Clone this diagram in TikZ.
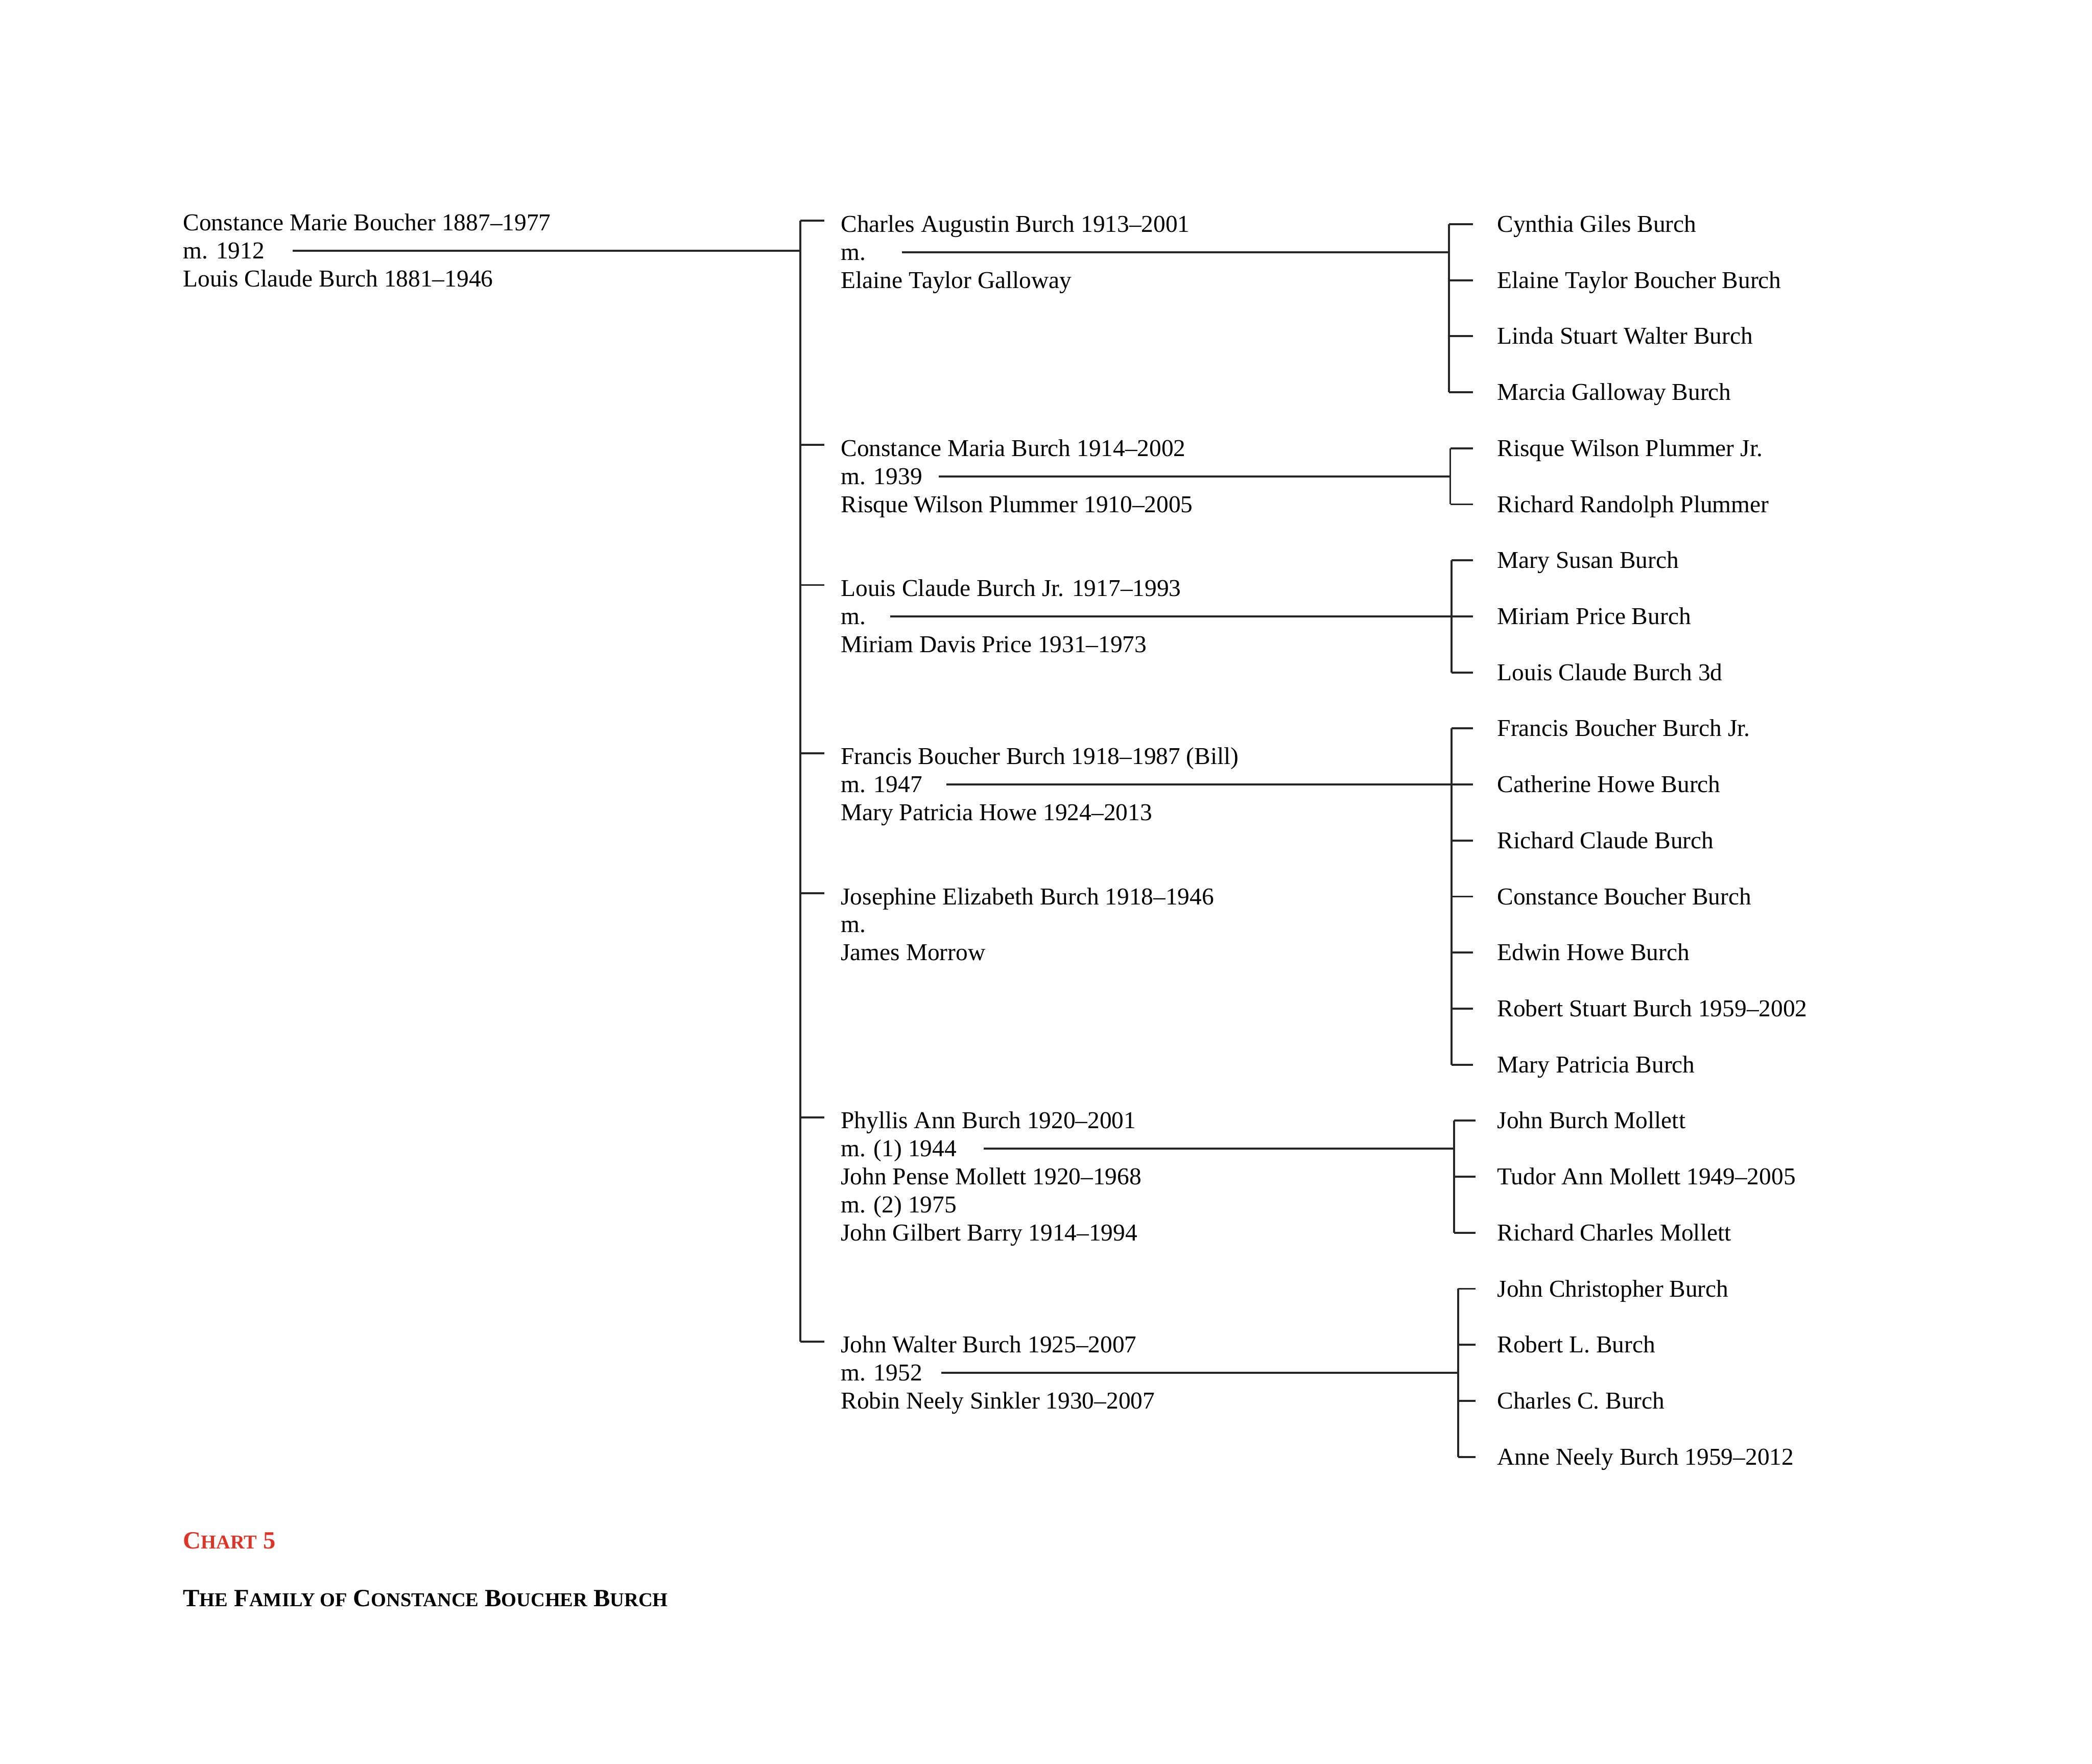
\documentclass[tikz,border=0pt]{standalone}
\usepackage{fontspec}
\setmainfont{Liberation Serif}
\usetikzlibrary{calc}
\definecolor{ChartRed}{RGB}{224,50,38}
\newcommand{\lowcaps}[1]{{\fontsize{10.45}{12}\selectfont #1}}

\begin{document}
\begin{tikzpicture}[x=0.025cm, y=-0.025cm,
    person/.style={anchor=base west, inner sep=0pt, font=\fontsize{12.9}{15}\selectfont},
    heading/.style={anchor=base west, inner sep=0pt, font=\fontsize{13.2}{15}\selectfont\bfseries},
    wire/.style={line width=1.05pt, draw=black!85}]
  \useasboundingbox (0,0) rectangle (1568,1322);

  % first generation
  \node[person] (root1) at (137,173) {Constance Marie Boucher 1887–1977};
  \node[person] (root2) at (137,194) {m. 1912};
  \node[person] (root3) at (137,215) {Louis Claude Burch 1881–1946};

  % second generation
  \node[person] (ca1) at (630,174) {Charles Augustin Burch 1913–2001};
  \node[person] (ca2) at (630,195) {m.};
  \node[person] (ca3) at (630,216) {Elaine Taylor Galloway};

  \node[person] (cm1) at (630,342) {Constance Maria Burch 1914–2002};
  \node[person] (cm2) at (630,363) {m. 1939};
  \node[person] (cm3) at (630,384) {Risque Wilson Plummer 1910–2005};

  \node[person] (lc1) at (630,447) {Louis Claude Burch Jr. 1917–1993};
  \node[person] (lc2) at (630,468) {m.};
  \node[person] (lc3) at (630,489) {Miriam Davis Price 1931–1973};

  \node[person] (fb1) at (630,573) {Francis Boucher Burch 1918–1987 (Bill)};
  \node[person] (fb2) at (630,594) {m. 1947};
  \node[person] (fb3) at (630,615) {Mary Patricia Howe 1924–2013};

  \node[person] (je1) at (630,678) {Josephine Elizabeth Burch 1918–1946};
  \node[person] (je2) at (630,699) {m.};
  \node[person] (je3) at (630,720) {James Morrow};

  \node[person] (pa1) at (630,846) {Phyllis Ann Burch 1920–2001};
  \node[person] (pa2) at (630,867) {m. (1) 1944};
  \node[person] (pa3) at (630,888) {John Pense Mollett 1920–1968};
  \node[person] (pa4) at (630,909) {m. (2) 1975};
  \node[person] (pa5) at (630,930) {John Gilbert Barry 1914–1994};

  \node[person] (jw1) at (630,1014) {John Walter Burch 1925–2007};
  \node[person] (jw2) at (630,1035) {m. 1952};
  \node[person] (jw3) at (630,1056) {Robin Neely Sinkler 1930–2007};

  % third generation
  \foreach \name [count=\j from 0] in {Cynthia Giles Burch, Elaine Taylor Boucher Burch,
      Linda Stuart Walter Burch, Marcia Galloway Burch, Risque Wilson Plummer Jr.,
      Richard Randolph Plummer, Mary Susan Burch, Miriam Price Burch, Louis Claude Burch 3d,
      Francis Boucher Burch Jr., Catherine Howe Burch, Richard Claude Burch,
      Constance Boucher Burch, Edwin Howe Burch, Robert Stuart Burch 1959–2002,
      Mary Patricia Burch, John Burch Mollett, Tudor Ann Mollett 1949–2005,
      Richard Charles Mollett, John Christopher Burch, Robert L. Burch, Charles C. Burch,
      Anne Neely Burch 1959–2012}
    \node[person] (k\j) at (1122,174+42*\j) {\name};

  % bracket of the second generation
  \coordinate (mainbar) at (600,0);
  \draw[wire] ($(ca1.base west)+(-30,-8.5)$) -- ($(jw1.base west)+(-30,-8.5)$);
  \foreach \p in {ca1,cm1,lc1,fb1,je1,pa1,jw1}
    \draw[wire] ($(\p.base west)+(-30,-8.5)$) -- ++(18,0);
  \draw[wire] ($(root2.base east)+(21,-6)$) coordinate (r) -- (r -| mainbar);

  % brackets of the third generation
  \foreach \a/\b/\off/\len/\p/\gap in {0/3/36/18/ca2/27, 4/5/35/17/cm2/12,
      6/8/34/16/lc2/18, 9/15/34/16/fb2/18, 16/18/32/16/pa2/20, 19/22/29/13/jw2/14} {
    \coordinate (bar) at ($(k\a.base west)+(-\off,0)$);
    \draw[wire] ($(k\a.base west)+(-\off,-6)$) -- ($(k\b.base west)+(-\off,-6)$);
    \foreach \j in {\a,...,\b}
      \draw[wire] ($(k\j.base west)+(-\off,-6)$) -- ++(\len,0);
    \draw[wire] ($(\p.base east)+(\gap,-6)$) coordinate (m) -- (m -| bar);
  }

  % caption
  \node[heading, text=ChartRed] (chart) at (137,1161) {C\lowcaps{HART} 5};
  \node[heading] (title) at (137,1204)
    {T\lowcaps{HE} F\lowcaps{AMILY OF} C\lowcaps{ONSTANCE} B\lowcaps{OUCHER} B\lowcaps{URCH}};
\end{tikzpicture}
\end{document}
